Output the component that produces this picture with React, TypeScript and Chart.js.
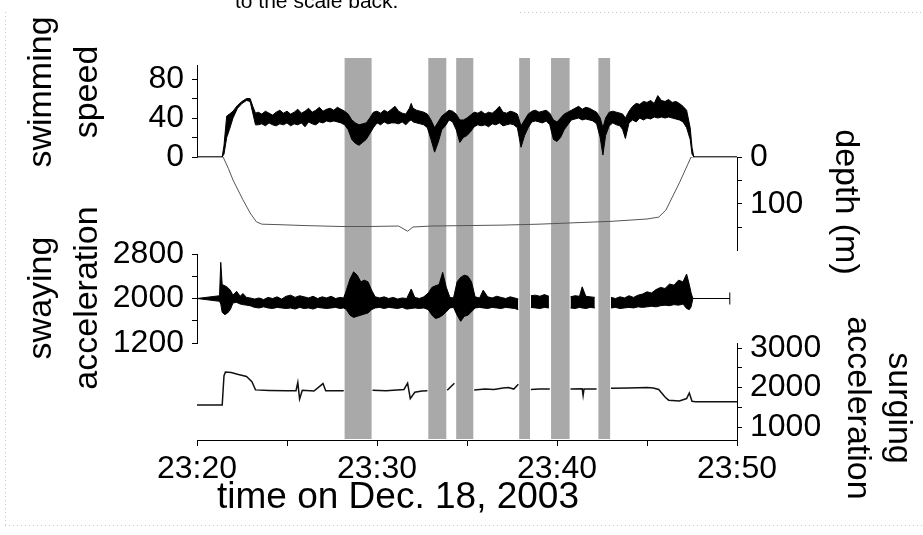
import React, { useEffect, useRef } from 'react';
import { Chart, registerables } from 'chart.js';

Chart.register(...registerables);

const FONT = '"Liberation Sans", Arial, sans-serif';

// x axis: minutes after 23:20
const xTicks = [0, 5, 10, 15, 20, 25, 30];
const xTickValues = [0, 10, 20, 30];
const xTickLabels = ['23:20', '23:30', '23:40', '23:50'];
const speedTicks = [0, 20, 40, 60, 80];
const speedTickLabels = [0, 40, 80];
const swayTicks = [1200, 1600, 2000, 2400, 2800];
const swayTickLabels = [1200, 2000, 2800];
const depthTicks = [0, 50, 100, 150];
const depthTickLabels = [0, 100];
const surgeTicks = [1000, 1500, 2000, 2500, 3000];
const surgeTickLabels = [1000, 2000, 3000];

// shaded intervals [start, end] in minutes after 23:20
const bands: [number, number][] = [
  [8.2, 9.7], [12.85, 13.85], [14.4, 15.35], [17.9, 18.5], [19.67, 20.7], [22.3, 22.95],
];

// swimming speed envelope: [minute, upper, lower]
const speedTrace: [number, number, number][] = [
  [0, 0, 0], [1.4, 0, 0], [1.5, 12, 3], [1.65, 42, 20], [1.8, 44, 28], [2.0, 47, 40], [2.25, 53, 50],
  [2.5, 57, 55], [2.75, 60, 58], [2.95, 60, 57], [3.1, 52, 45], [3.25, 45, 33],
  [3.4, 46, 33], [3.6, 44, 34], [3.8, 47, 32], [4.0, 45, 35], [4.2, 43, 33], [4.4, 46, 32], [4.6, 48, 34],
  [4.8, 45, 33], [5.0, 47, 35], [5.2, 44, 32], [5.4, 46, 34], [5.6, 49, 33], [5.8, 45, 35], [6.0, 47, 31],
  [6.2, 50, 36], [6.4, 46, 34], [6.6, 48, 33], [6.8, 51, 36], [7.0, 47, 35], [7.2, 49, 37], [7.4, 50, 36],
  [7.6, 48, 37], [7.8, 51, 36], [8.0, 49, 35], [8.2, 47, 33],
  [8.4, 44, 28], [8.6, 38, 18], [8.8, 35, 14], [9.0, 33, 12], [9.2, 34, 15], [9.4, 35, 18], [9.6, 40, 24],
  [9.8, 46, 30], [10.0, 47, 35], [10.2, 45, 33], [10.4, 48, 36], [10.6, 46, 34], [10.8, 49, 35], [11.0, 52, 35],
  [11.2, 47, 34], [11.4, 45, 36], [11.6, 44, 33], [11.8, 50, 37], [11.9, 55, 38], [12.0, 50, 36], [12.2, 48, 35],
  [12.4, 47, 34], [12.6, 46, 33], [12.8, 44, 30],
  [13.0, 38, 18], [13.2, 30, 5], [13.4, 36, 15], [13.6, 42, 28], [13.8, 45, 32], [14.0, 48, 38], [14.2, 47, 36],
  [14.4, 44, 28], [14.6, 38, 15], [14.8, 38, 20], [15.0, 40, 22], [15.2, 43, 26], [15.4, 46, 31], [15.6, 45, 33],
  [15.8, 47, 32], [16.0, 44, 33], [16.2, 46, 31], [16.4, 45, 34], [16.6, 48, 33], [16.8, 52, 35], [17.0, 46, 32],
  [17.2, 45, 33], [17.4, 47, 34], [17.6, 46, 33], [17.8, 44, 30],
  [18.0, 32, 10], [18.2, 38, 22], [18.4, 44, 30], [18.6, 47, 36], [18.8, 48, 37], [19.0, 46, 36], [19.2, 47, 35],
  [19.4, 48, 37], [19.6, 45, 33], [19.8, 38, 18], [20.0, 36, 16], [20.2, 40, 20], [20.4, 44, 28], [20.6, 46, 33],
  [20.8, 48, 38], [21.0, 50, 39], [21.2, 52, 40], [21.4, 49, 38], [21.6, 51, 39], [21.8, 50, 38], [22.0, 48, 37],
  [22.2, 46, 34],
  [22.4, 40, 20], [22.55, 30, 2], [22.7, 40, 22], [22.9, 46, 32], [23.1, 47, 35], [23.3, 46, 33], [23.5, 45, 32],
  [23.65, 44, 28], [23.8, 40, 19], [24.0, 47, 35], [24.2, 52, 38], [24.4, 55, 36], [24.6, 54, 40], [24.8, 57, 38],
  [25.0, 56, 40], [25.2, 58, 39], [25.4, 55, 41], [25.6, 63, 40], [25.8, 58, 41], [26.0, 57, 40], [26.2, 59, 41],
  [26.4, 56, 40], [26.6, 57, 39], [26.8, 55, 38], [27.0, 52, 36], [27.2, 48, 30], [27.4, 30, 18], [27.5, 10, 3],
  [27.6, 0, 0], [30, 0, 0],
];

// depth (m): [minute, depth]
const depthTrace: [number, number][] = [
  [0, 0], [1.45, 0], [1.75, 25], [2.0, 49], [2.55, 91], [2.95, 119], [3.3, 138], [3.6, 143], [4.5, 144],
  [6, 146], [8, 148], [9.5, 148], [11.2, 147], [11.7, 158], [12.0, 149], [13, 147], [15, 146], [17, 145],
  [19, 143], [21, 140], [23, 137], [25, 132], [25.65, 128], [26.05, 113], [26.8, 55], [27.45, 0], [30, 0],
];

// swaying acceleration envelope: [minute, upper, lower]
const swayTrace: [number, number | null, number | null][] = [
  [0, 2000, 2000], [1.25, 2050, 1950], [1.32, 2650, 1900], [1.4, 2250, 1750], [1.55, 2230, 1710],
  [1.7, 2200, 1740], [1.85, 2150, 1800], [2.0, 2060, 1920], [2.2, 2130, 1930], [2.4, 2040, 1900],
  [2.55, 2090, 1890], [2.75, 2020, 1880], [2.95, 2010, 1870],
  [3.2, 1990, 1840], [3.45, 2010, 1830], [3.7, 1980, 1850], [3.95, 2020, 1830], [4.2, 2000, 1820],
  [4.45, 2030, 1840], [4.7, 1990, 1830], [4.95, 2040, 1820], [5.2, 2060, 1830], [5.45, 2020, 1810],
  [5.7, 2050, 1840], [5.95, 2030, 1820], [6.2, 2010, 1830], [6.45, 2040, 1810], [6.7, 2000, 1840],
  [6.95, 2030, 1830], [7.2, 2010, 1820], [7.45, 2040, 1830], [7.7, 2000, 1840], [7.95, 2020, 1820],
  [8.15, 2010, 1830],
  [8.3, 2150, 1800], [8.5, 2350, 1700], [8.7, 2480, 1660], [8.9, 2420, 1680], [9.1, 2300, 1700],
  [9.3, 2330, 1720], [9.5, 2300, 1740], [9.7, 2150, 1800], [9.9, 2030, 1830],
  [10.15, 2010, 1840], [10.4, 2030, 1820], [10.65, 2000, 1840], [10.9, 2020, 1830], [11.15, 1990, 1820],
  [11.4, 2010, 1840], [11.65, 2000, 1810], [11.9, 2170, 1820], [12.1, 2020, 1830], [12.35, 2000, 1820],
  [12.6, 2030, 1830],
  [12.85, 2100, 1800], [13.05, 2200, 1700], [13.25, 2230, 1640], [13.45, 2250, 1660], [13.65, 2470, 1700],
  [13.85, 2200, 1760], [14.05, 2020, 1830], [14.25, 2010, 1840],
  [14.45, 2300, 1700], [14.65, 2380, 1590], [14.85, 2420, 1680], [15.05, 2400, 1700], [15.25, 2300, 1760],
  [15.45, 2030, 1830],
  [15.7, 2010, 1840], [15.9, 2150, 1830], [16.15, 2030, 1820], [16.4, 2010, 1840], [16.65, 2040, 1830],
  [16.9, 2020, 1820], [17.15, 2000, 1840], [17.4, 2030, 1830], [17.65, 2010, 1820], [17.85, 1990, 1800],
  [18.2, null, null],
  [18.55, 2050, 1840], [18.8, 2060, 1830], [19.05, 2040, 1820], [19.3, 2070, 1840], [19.55, 2040, 1830],
  [20.2, null, null],
  [20.75, 2030, 1830], [21.0, 2050, 1820], [21.25, 2040, 1840], [21.4, 2210, 1830], [21.6, 2040, 1820],
  [21.85, 2030, 1840], [22.1, 2020, 1830],
  [22.6, null, null],
  [23.0, 2020, 1830], [23.25, 2000, 1840], [23.5, 2030, 1820], [23.75, 2010, 1830], [24.0, 2050, 1840],
  [24.25, 2020, 1830], [24.5, 2060, 1850], [24.75, 2080, 1840], [25.0, 2120, 1850], [25.25, 2100, 1860],
  [25.5, 2160, 1850], [25.75, 2200, 1870], [26.0, 2180, 1880], [26.25, 2260, 1870], [26.5, 2240, 1890],
  [26.75, 2330, 1880], [27.0, 2300, 1900], [27.2, 2440, 1820], [27.35, 2250, 1800], [27.45, 2100, 1850],
  [27.55, 2000, 2000], [29.6, 2000, 2000],
];
const swayEndMark: [number, number] = [29.6, 2000];

// surging acceleration: [minute, value]
const surgeTrace: [number, number | null][] = [
  [0, 1557], [1.4, 1557], [1.5, 2300], [1.58, 2390], [1.9, 2380], [2.3, 2330], [2.75, 2280], [3.05, 2150],
  [3.25, 1940], [4.0, 1925], [5.0, 1915], [5.5, 1920], [5.6, 2130], [5.7, 1710], [5.85, 1930], [6.5, 1910],
  [7.0, 2100], [7.15, 1920], [8.15, 1920], [8.9, null], [9.75, 1930], [10.5, 1920], [11.5, 1950], [11.7, 2110],
  [11.85, 1720], [12.1, 1880], [12.5, 1910], [12.8, 1920], [13.3, null], [13.9, 1930], [14.3, 2110],
  [14.9, null], [15.4, 1940], [16, 1960], [16.5, 1950], [17.0, 1990], [17.3, 2000], [17.6, 1960],
  [17.85, 2080], [18.2, null], [18.55, 1950], [19.0, 1960], [19.6, 1960], [20.2, null], [20.75, 1960],
  [21.4, 1970], [21.45, 1800], [21.5, 1960], [22.2, 1960], [22.6, null], [23.0, 1980], [24.0, 1990],
  [25.0, 2000], [25.35, 1990], [25.65, 1950], [26.0, 1760], [26.2, 1680], [26.8, 1660], [27.2, 1720],
  [27.35, 1860], [27.5, 1650], [27.7, 1640], [30, 1640],
];

const topCaption = 'to the scale back.';
const xTitle = 'time on Dec. 18, 2003';
const speedTitle = ['swimming', 'speed'];
const swayTitle = ['swaying', 'acceleration'];
const depthTitle = 'depth (m)';
const surgeTitle = ['surging', 'acceleration'];

const tickFont = { family: FONT, size: 32 };

function yAxis(position: 'left' | 'right', weight: number, stackWeight: number, min: number, max: number,
  tickValues: number[], labels: number[], extra: any = {}) {
  return {
    type: 'linear',
    position,
    stack: position === 'left' ? 'L' : 'R',
    stackWeight,
    weight,
    min,
    max,
    grid: { drawOnChartArea: false, drawTicks: true, tickLength: 5, color: '#000', lineWidth: 1 },
    border: { display: true, color: '#000', width: 1 },
    ticks: {
      autoSkip: false,
      font: tickFont,
      color: '#000',
      padding: 8,
      callback: (v: number) => (labels.includes(v) ? String(v) : ''),
    },
    afterBuildTicks: (s: any) => { s.ticks = tickValues.map((value) => ({ value })); },
    afterFit: (s: any) => { s.width = position === 'left' ? 110 : 100; },
    ...extra,
  };
}

function spacer(position: 'left' | 'right', weight: number, stackWeight: number) {
  return {
    type: 'linear',
    display: false,
    position,
    stack: position === 'left' ? 'L' : 'R',
    stackWeight,
    weight,
    min: 0,
    max: 1,
    afterFit: (s: any) => { s.width = position === 'left' ? 110 : 100; },
  };
}

function rotText(ctx: CanvasRenderingContext2D, text: string, x: number, y: number, angle: number) {
  ctx.save();
  ctx.translate(x, y);
  ctx.rotate(angle);
  ctx.fillText(text, 0, 0);
  ctx.restore();
}

const bandPlugin = {
  id: 'bands',
  beforeDatasetsDraw(chart: any) {
    const { ctx, chartArea, scales } = chart;
    const x = scales.x;
    ctx.save();
    ctx.fillStyle = '#a9a9a9';
    for (const [a, b] of bands) {
      const x0 = x.getPixelForValue(a);
      const x1 = x.getPixelForValue(b);
      ctx.fillRect(x0, chartArea.top, x1 - x0, chartArea.bottom - chartArea.top - 1);
    }
    ctx.restore();
  },
};

const titlePlugin = {
  id: 'titles',
  afterDraw(chart: any) {
    const { ctx, chartArea } = chart;
    const L = chartArea.left;
    const R = chartArea.right;
    ctx.save();
    // faint frame of the scanned page
    ctx.strokeStyle = '#c8c8c8';
    ctx.lineWidth = 1;
    ctx.setLineDash([1, 3]);
    ctx.beginPath();
    ctx.moveTo(5.5, 12); ctx.lineTo(5.5, 526);
    ctx.moveTo(5, 525.5); ctx.lineTo(923, 525.5);
    ctx.moveTo(520, 12.5); ctx.lineTo(923, 12.5);
    ctx.stroke();
    ctx.setLineDash([]);

    ctx.fillStyle = '#000';
    ctx.font = `21px ${FONT}`;
    ctx.textAlign = 'left';
    ctx.textBaseline = 'alphabetic';
    ctx.fillText(topCaption, 235, 8);

    ctx.font = `34px ${FONT}`;
    ctx.textAlign = 'center';
    ctx.textBaseline = 'middle';
    rotText(ctx, speedTitle[0], L - 155, 92, -Math.PI / 2);
    rotText(ctx, speedTitle[1], L - 109, 92, -Math.PI / 2);
    rotText(ctx, swayTitle[0], L - 155, 298, -Math.PI / 2);
    rotText(ctx, swayTitle[1], L - 109, 298, -Math.PI / 2);
    rotText(ctx, depthTitle, R + 108, 202, Math.PI / 2);
    rotText(ctx, surgeTitle[0], R + 161, 408, Math.PI / 2);
    rotText(ctx, surgeTitle[1], R + 120, 408, Math.PI / 2);
    ctx.font = `37px ${FONT}`;
    ctx.fillText(xTitle, 398, 498);
    ctx.restore();
  },
};

export default function App() {
  const ref = useRef<HTMLCanvasElement | null>(null);

  useEffect(() => {
    if (!ref.current) return;
    const line = (data: any[], axis: string, extra: any = {}) => ({
      data,
      yAxisID: axis,
      borderColor: '#000',
      backgroundColor: '#000',
      borderWidth: 1,
      pointRadius: 0,
      tension: 0,
      fill: false,
      spanGaps: false,
      ...extra,
    });
    const chart = new Chart(ref.current, {
      type: 'line',
      data: {
        datasets: [
          line(speedTrace.map(([t, h]) => ({ x: t, y: h })), 'ySpeed', { fill: '+1' }),
          line(speedTrace.map(([t, , l]) => ({ x: t, y: l })), 'ySpeed'),
          line(swayTrace.map(([t, h]) => ({ x: t, y: h })), 'ySway', { fill: '+1' }),
          line(swayTrace.map(([t, , l]) => ({ x: t, y: l })), 'ySway'),
          line(depthTrace.map(([t, d]) => ({ x: t, y: d })), 'yDepth', { borderColor: '#555' }),
          line(surgeTrace.map(([t, v]) => ({ x: t, y: v })), 'ySurge', { borderWidth: 1.5, borderColor: '#111' }),
          line([{ x: swayEndMark[0], y: swayEndMark[1] }], 'ySway', {
            showLine: false, pointRadius: 6, pointStyle: 'line', rotation: 90, pointBorderColor: '#000', pointBorderWidth: 1,
          }),
        ],
      },
      options: {
        responsive: false,
        animation: false,
        events: [],
        layout: { padding: { left: 87, right: 86, top: 58, bottom: 45 } },
        plugins: { legend: { display: false }, tooltip: { enabled: false } },
        scales: {
          x: {
            type: 'linear',
            position: 'bottom',
            min: 0,
            max: 30,
            grid: { drawOnChartArea: false, drawTicks: true, tickLength: 6, color: '#000' },
            border: { display: true, color: '#000', width: 1 },
            ticks: {
              autoSkip: false,
              maxRotation: 0,
              font: tickFont,
              color: '#000',
              padding: 4,
              callback: (v: number) => {
                const i = xTickValues.indexOf(v);
                return i >= 0 ? xTickLabels[i] : '';
              },
            },
            afterBuildTicks: (s: any) => { s.ticks = xTicks.map((value) => ({ value })); },
            afterFit: (s: any) => { s.height = 50; },
          },
          lTop: spacer('left', 5, 7),
          ySpeed: yAxis('left', 4, 92, 0, 94.4, speedTicks, speedTickLabels),
          lMid: spacer('left', 3, 97),
          ySway: yAxis('left', 2, 89, 1200, 2800, swayTicks, swayTickLabels),
          lBot: spacer('left', 1, 97),
          rTop: spacer('right', 1, 99),
          yDepth: yAxis('right', 2, 93, 0, 198, depthTicks, depthTickLabels, { reverse: true }),
          rMid: spacer('right', 3, 93),
          ySurge: yAxis('right', 4, 97, 671, 3127, surgeTicks, surgeTickLabels),
        } as any,
      },
      plugins: [bandPlugin, titlePlugin],
    } as any);
    return () => chart.destroy();
  }, []);

  return (
    <div style={{ position: 'absolute', left: 0, top: 0, width: 923, height: 535, background: '#fff' }}>
      <canvas ref={ref} width={923} height={535} style={{ width: 923, height: 535, display: 'block' }} />
    </div>
  );
}
